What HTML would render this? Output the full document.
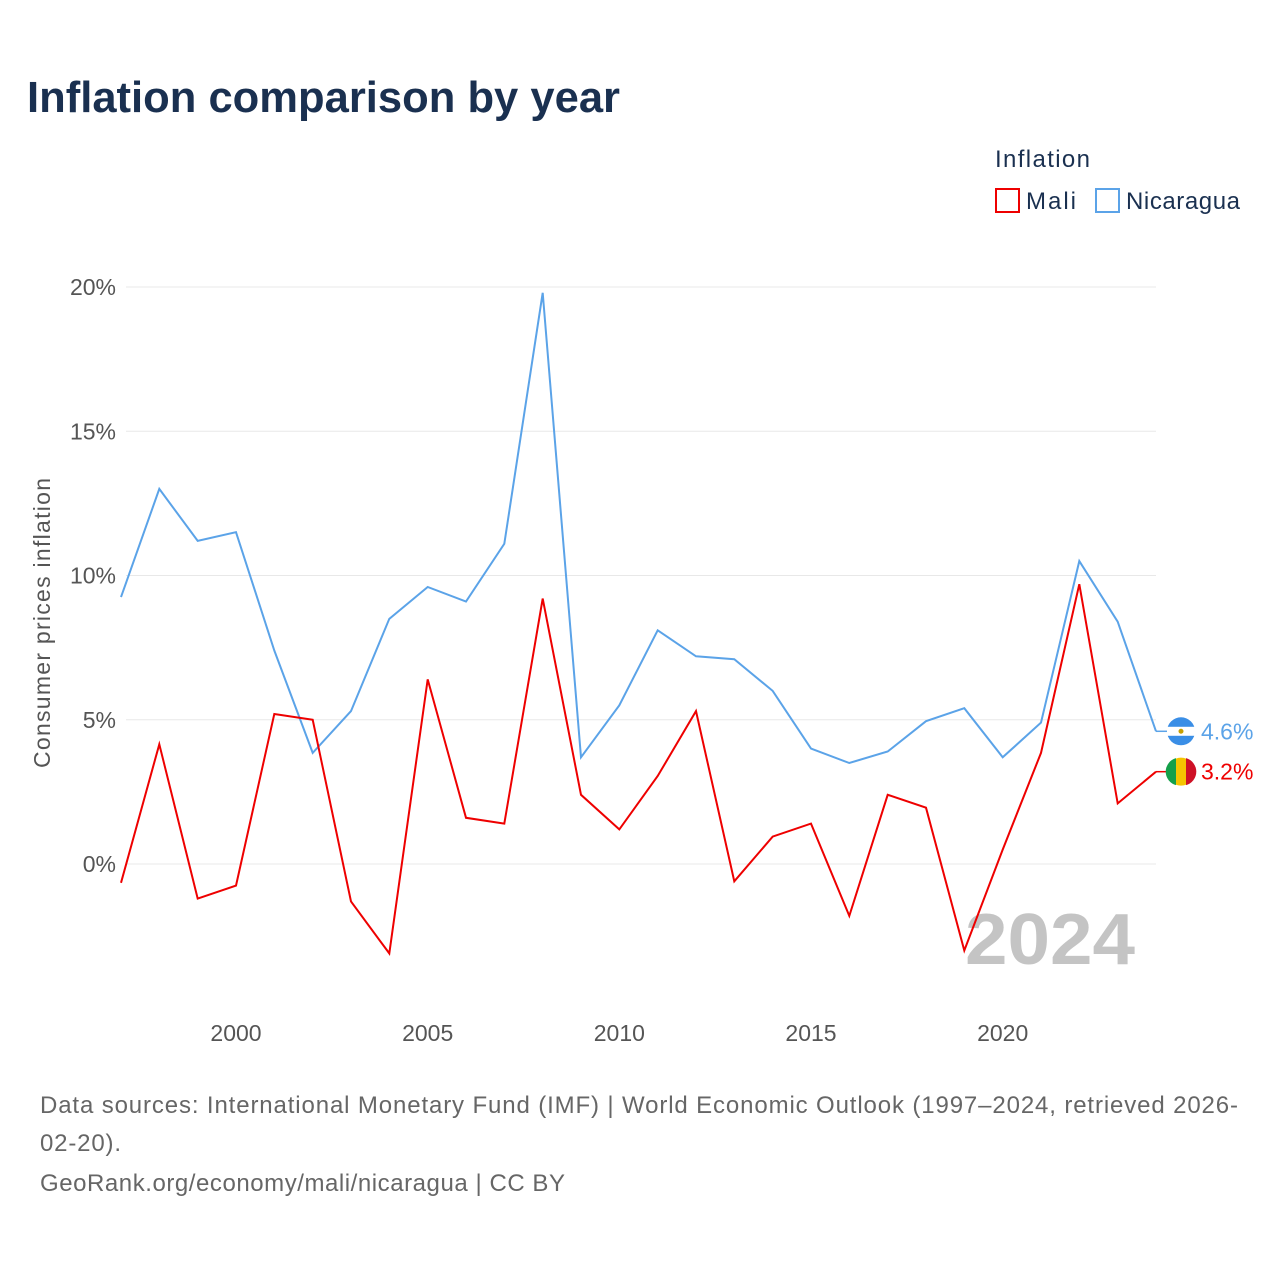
<!DOCTYPE html>
<html><head><meta charset="utf-8"><style>
body{margin:0;background:#fff;font-family:"Liberation Sans",sans-serif;}
svg text{font-family:"Liberation Sans",sans-serif;}
</style></head><body>
<svg width="1280" height="1280" xmlns="http://www.w3.org/2000/svg">
<text x="27" y="112" font-size="44" font-weight="bold" fill="#1a3050" textLength="593" lengthAdjust="spacingAndGlyphs">Inflation comparison by year</text>
<g>
<text x="995" y="167" font-size="24" fill="#1a3050" textLength="95">Inflation</text>
<g><rect x="996" y="189" width="23" height="23" fill="none" stroke="#ee0000" stroke-width="2"/><text x="1026" y="209" font-size="24" fill="#1a3050" textLength="50">Mali</text></g>
<g><rect x="1096" y="189" width="23" height="23" fill="none" stroke="#5ba3e8" stroke-width="2"/><text x="1126" y="209" font-size="24" fill="#1a3050" textLength="114">Nicaragua</text></g>
</g>
<g id="grid"></g>
<g id="yticks"></g>
<g id="xticks"></g>
<text transform="translate(50,623) rotate(-90)" text-anchor="middle" font-size="23" fill="#555" textLength="290">Consumer prices inflation</text>
<text x="965" y="964" font-size="72" font-weight="bold" fill="#c4c4c4" textLength="170" lengthAdjust="spacingAndGlyphs">2024</text>
<g id="series"></g>
<text x="40" y="1113" font-size="24" fill="#666" textLength="1198">Data sources: International Monetary Fund (IMF) | World Economic Outlook (1997–2024, retrieved 2026-</text>
<text x="40" y="1151" font-size="24" fill="#666" textLength="81">02-20).</text>
<text x="40" y="1191" font-size="24" fill="#666" textLength="525">GeoRank.org/economy/mali/nicaragua | CC BY</text>
</svg>
<script>
const years=[1997,1998,1999,2000,2001,2002,2003,2004,2005,2006,2007,2008,2009,2010,2011,2012,2013,2014,2015,2016,2017,2018,2019,2020,2021,2022,2023,2024];
const nicaragua=[9.25,13.0,11.2,11.5,7.4,3.85,5.3,8.5,9.6,9.1,11.1,19.8,3.7,5.5,8.1,7.2,7.1,6.0,4.0,3.5,3.9,4.95,5.4,3.7,4.9,10.5,8.4,4.6];
const mali=[-0.65,4.15,-1.2,-0.75,5.2,5.0,-1.3,-3.1,6.4,1.6,1.4,9.2,2.4,1.2,3.05,5.3,-0.6,0.95,1.4,-1.8,2.4,1.95,-3.0,0.5,3.85,9.7,2.1,3.2];
const yTicks=[0,5,10,15,20];
const xTicks=[2000,2005,2010,2015,2020];
const NS="http://www.w3.org/2000/svg";
const xs=y=>121+(y-1997)*(1156-121)/27;
const ys=v=>864-v*(864-287)/20;
function mk(t,a,p){const e=document.createElementNS(NS,t);for(const k in a)e.setAttribute(k,a[k]);p.appendChild(e);return e;}
const grid=document.getElementById('grid'),yt=document.getElementById('yticks'),xt=document.getElementById('xticks'),se=document.getElementById('series');
yTicks.forEach(v=>{
 const l=mk('line',{x1:126,x2:1156,y1:ys(v),y2:ys(v),stroke:'#e8e8e8','stroke-width':1},grid);
 
 
 const t=mk('text',{x:116,y:ys(v)+8,'text-anchor':'end','font-size':23,fill:'#555'},yt);
 t.textContent=v+'%';
 
 
});
xTicks.forEach(y=>{
 const t=mk('text',{x:xs(y),y:1041,'text-anchor':'middle','font-size':23,fill:'#555'},xt);
 t.textContent=y;
 
 
});
function line(vals,color,name){
 const d=vals.map((v,i)=>(i?'L':'M')+xs(years[i]).toFixed(1)+','+ys(v).toFixed(1)).join('');
 const p=mk('path',{d:d,fill:'none',stroke:color,'stroke-width':2},se);
 
 
 const last=vals[vals.length-1],lx=xs(years[years.length-1]),ly=ys(last);
 mk('line',{x1:lx,x2:lx+12,y1:ly,y2:ly,stroke:color,'stroke-width':1.5},se);
 const c=mk('circle',{cx:lx+25,cy:ly,r:14,fill:name==='mali'?'#f5c400':'#3a8ee6'},se);
 
 
 if(name==='mali'){mk('path',{d:`M${lx+20},${ly-13.5}A14,14 0 0 0 ${lx+20},${ly+13.5}Z`,fill:'#14a04a'},se);mk('path',{d:`M${lx+30},${ly-13.5}A14,14 0 0 1 ${lx+30},${ly+13.5}Z`,fill:'#ce1126'},se);}
 else{mk('rect',{x:lx+11,y:ly-4.5,width:28,height:9,fill:'#fff'},se);mk('circle',{cx:lx+25,cy:ly,r:2.5,fill:'#c8a000'},se);}
 const t=mk('text',{x:lx+45,y:ly+8,'font-size':23,fill:color},se);
 t.textContent=last.toFixed(1)+'%';
 
 
}
line(nicaragua,'#5ba3e8','nicaragua');
line(mali,'#ee0000','mali');
</script>
</body></html>
